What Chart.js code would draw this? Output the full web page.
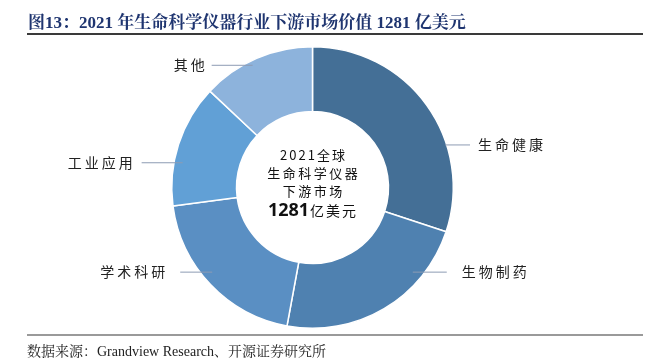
<!DOCTYPE html>
<html>
<head>
<meta charset="utf-8">
<script src="https://cdn.jsdelivr.net/npm/chart.js@4"></script>
<style>
  body { margin: 0; background: #fff; }
  #wrap { position: relative; width: 658px; height: 363px; overflow: hidden; }
  #title {
    position: absolute; left: 28px; top: 8px;
    font: bold 17px "Liberation Serif", "Noto Serif CJK SC", "Noto Sans CJK SC", serif;
    color: #1f3570; white-space: nowrap;
  }
  #topline { position: absolute; left: 27px; top: 33px; width: 616px; height: 2px; background: #3a3a3a; }
  #botline { position: absolute; left: 27px; top: 334px; width: 616px; height: 2px; background: #9a9a9a; }
  #source {
    position: absolute; left: 27px; top: 340px;
    font: 14px "Liberation Serif", "Noto Serif CJK SC", "Noto Sans CJK SC", serif;
    color: #222; white-space: nowrap;
  }
  canvas { position: absolute; left: 0; top: 0; }
</style>
</head>
<body>
<div id="wrap">
  <canvas id="pie" width="658" height="363"></canvas>
  <div id="title">图13：2021 年生命科学仪器行业下游市场价值 1281 亿美元</div>
  <div id="topline"></div>
  <div id="botline"></div>
  <div id="source">数据来源：Grandview Research、开源证券研究所</div>
</div>

<script>
// -----------------------------
// Data
// -----------------------------
const labels = ["生命健康", "生物制药", "学术科研", "工业应用", "其他"];
const shares = [30.1, 22.8, 20.0, 14.1, 13.0];
const colors = ["#446f96", "#4f81b0", "#5a8fc3", "#61a0d6", "#8db3dc"];

const centerLines = ["2021全球", "生命科学仪器", "下游市场"];
const centerTotal = "1281";
const centerUnit = "亿美元";

// label placement (angle clockwise from top, radius fraction, leader length, text gap)
const labelAngle = [72, 130, 230, 281, 334];
const labelRadius = [0.99, 0.93, 0.93, 0.94, 0.97];
const leaderLen = [25, 34, 32, 41, 41];
const textGap = [8, 15, 15, 9, 7];

// -----------------------------
// helpers
// -----------------------------
function spacedText(ctx, text, x, y, spacing, align) {
  let w = 0;
  for (const ch of text) w += ctx.measureText(ch).width + spacing;
  w -= spacing;
  let cx = align === "right" ? x - w : (align === "center" ? x - w / 2 : x);
  ctx.textAlign = "left";
  for (const ch of text) {
    ctx.fillText(ch, cx, y);
    cx += ctx.measureText(ch).width + spacing;
  }
  return w;
}

const labelPlugin = {
  id: "labelPlugin",
  afterDatasetsDraw(chart) {
    const ctx = chart.ctx;
    const arc = chart.getDatasetMeta(0).data[0];
    const cx = arc.x, cy = arc.y, R = arc.outerRadius;

    ctx.save();
    ctx.font = '14px "Noto Sans CJK SC", sans-serif';
    ctx.textBaseline = "middle";
    labels.forEach((lab, i) => {
      const a = labelAngle[i] * Math.PI / 180;
      const x0 = cx + Math.sin(a) * R * labelRadius[i];
      const y0 = cy - Math.cos(a) * R * labelRadius[i];
      const dir = labelAngle[i] < 180 ? 1 : -1;
      const x1 = x0 + dir * leaderLen[i];
      ctx.strokeStyle = "#8d9bb3";
      ctx.lineWidth = 1;
      ctx.beginPath();
      ctx.moveTo(x0, y0 + 0.5);
      ctx.lineTo(x1, y0 + 0.5);
      ctx.stroke();
      ctx.fillStyle = "#222";
      spacedText(ctx, lab, x1 + dir * textGap[i], y0, 3, dir > 0 ? "left" : "right");
    });

    // center text
    ctx.fillStyle = "#111";
    ctx.font = '13px "Noto Sans CJK SC", sans-serif';
    spacedText(ctx, centerLines[0], cx, cy - 32, 2, "center");
    spacedText(ctx, centerLines[1], cx, cy - 14, 2.5, "center");
    spacedText(ctx, centerLines[2], cx, cy + 4, 2.5, "center");

    ctx.font = 'bold 18px "Open Sans", "Noto Sans CJK SC", sans-serif';
    const w1 = ctx.measureText(centerTotal).width;
    ctx.font = '14px "Noto Sans CJK SC", sans-serif';
    let w2 = 0;
    for (const ch of centerUnit) w2 += ctx.measureText(ch).width + 2;
    const start = cx - (w1 + w2) / 2;
    ctx.font = 'bold 18px "Open Sans", "Noto Sans CJK SC", sans-serif';
    ctx.textAlign = "left";
    ctx.fillText(centerTotal, start, cy + 23);
    ctx.font = '14px "Noto Sans CJK SC", sans-serif';
    spacedText(ctx, centerUnit, start + w1 + 1, cy + 23, 2, "left");
    ctx.restore();
  }
};

// -----------------------------
// Chart
// -----------------------------
new Chart(document.getElementById("pie").getContext("2d"), {
  type: "doughnut",
  data: {
    labels: labels,
    datasets: [{
      data: shares,
      backgroundColor: colors,
      borderColor: "#ffffff",
      borderWidth: 1.5
    }]
  },
  options: {
    responsive: false,
    animation: false,
    cutout: "54%",
    layout: { padding: { left: 171, right: 204, top: 46, bottom: 34 } },
    plugins: {
      legend: { display: false },
      tooltip: { enabled: false }
    }
  },
  plugins: [labelPlugin]
});
</script>
</body>
</html>
